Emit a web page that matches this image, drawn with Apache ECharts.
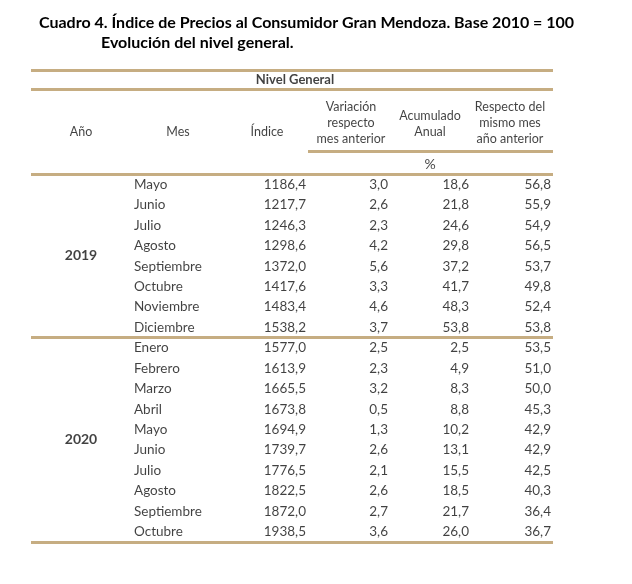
<!DOCTYPE html>
<html>
<head>
<meta charset="utf-8">
<script src="https://cdn.jsdelivr.net/npm/echarts@6/dist/echarts.min.js"></script>
<style>html,body{margin:0;padding:0;background:#fff}#c{width:632px;height:584px}</style>
</head>
<body>
<div id="c"></div>
<script>
// ---- data ----
var titleLine1 = 'Cuadro 4. Índice de Precios al Consumidor Gran Mendoza. Base 2010 = 100';
var titleLine2 = 'Evolución del nivel general.';
var groupHeader = 'Nivel General';
var colHeaders = ['Año', 'Mes', 'Índice', 'Variación\nrespecto\nmes anterior', 'Acumulado\nAnual', 'Respecto del\nmismo mes\naño anterior'];
var unitLabel = '%';
var years = ['2019', '2020'];
var yearRowCounts = [8, 10];
var months = ['Mayo','Junio','Julio','Agosto','Septiembre','Octubre','Noviembre','Diciembre',
              'Enero','Febrero','Marzo','Abril','Mayo','Junio','Julio','Agosto','Septiembre','Octubre'];
var indice = [1186.4,1217.7,1246.3,1298.6,1372.0,1417.6,1483.4,1538.2,1577.0,1613.9,1665.5,1673.8,1694.9,1739.7,1776.5,1822.5,1872.0,1938.5];
var variacion = [3.0,2.6,2.3,4.2,5.6,3.3,4.6,3.7,2.5,2.3,3.2,0.5,1.3,2.6,2.1,2.6,2.7,3.6];
var acumulado = [18.6,21.8,24.6,29.8,37.2,41.7,48.3,53.8,2.5,4.9,8.3,8.8,10.2,13.1,15.5,18.5,21.7,26.0];
var interanual = [56.8,55.9,54.9,56.5,53.7,49.8,52.4,53.8,53.5,51.0,50.0,45.3,42.9,42.9,42.5,40.3,36.4,36.7];

// ---- layout (table geometry in axis units) ----
var colAnchor = {year: 50, mes: 103, indice: 275, variacion: 357, acumulado: 438, interanual: 520};
var headCenter = [50, 147, 236, 320, 399, 479];
var headY = [-2.05, -2.05, -2.05, -2.5, -2.45, -2.5];
var groupHeaderPos = [264, -4.62];
var unitPos = [399, -0.5];
var subLineFrom = 277;
var Y_TOP = -5.1, Y_HEAD = -4.17, Y_SUB = -1.12;
var LINE = '#c6ad82';
var FONT = 'Lato';

function fmt(v) { return v.toFixed(1).replace('.', ','); }

var nRows = months.length;
function rowsOf(arr, x, f) {
  return arr.map(function (v, i) { return {value: [x, i + 0.5], txt: f ? f(v) : v}; });
}
function cellSeries(name, data, pos, extra) {
  var lab = {show: true, position: pos, distance: 0, color: '#111', fontFamily: FONT, fontSize: 13.5,
             formatter: function (p) { return p.data.txt; }};
  if (extra) for (var k in extra) lab[k] = extra[k];
  return {name: name, type: 'scatter', symbolSize: 0, silent: true, data: data, label: lab, z: 5};
}

// year labels centred over their row blocks
var yearData = [];
var start = 0;
years.forEach(function (y, i) {
  yearData.push({value: [colAnchor.year, start + yearRowCounts[i] / 2], txt: y});
  start += yearRowCounts[i];
});
// group boundaries for separator lines
var bounds = [0];
yearRowCounts.reduce(function (a, c) { bounds.push(a + c); return a + c; }, 0);

var headerData = colHeaders.map(function (h, i) { return {value: [headCenter[i], headY[i]], txt: h}; });

var lineStyle = {color: LINE, width: 2.8, type: 'solid'};
var markLines = [
  {yAxis: Y_TOP}, {yAxis: Y_HEAD},
  [{coord: [subLineFrom, Y_SUB]}, {coord: [522, Y_SUB]}]
].concat(bounds.map(function (b) { return {yAxis: b}; }));

var option = {
  backgroundColor: '#fff',
  animation: false,
  title: [
    {text: titleLine1, left: 34, top: 10, textStyle: {fontFamily: FONT, fontWeight: 'bold', fontSize: 16, color: '#000'}},
    {text: titleLine2, left: 96, top: 30, textStyle: {fontFamily: FONT, fontWeight: 'bold', fontSize: 16, color: '#000'}}
  ],
  grid: {left: 31, right: 79, top: 70, bottom: 42},
  xAxis: {type: 'value', min: 0, max: 522, show: false},
  yAxis: {type: 'value', inverse: true, min: Y_TOP, max: nRows, show: false},
  series: [
    cellSeries('Mes', rowsOf(months, colAnchor.mes), 'right'),
    cellSeries('Índice', rowsOf(indice, colAnchor.indice, fmt), 'left'),
    cellSeries('Variación', rowsOf(variacion, colAnchor.variacion, fmt), 'left'),
    cellSeries('Acumulado', rowsOf(acumulado, colAnchor.acumulado, fmt), 'left'),
    cellSeries('Interanual', rowsOf(interanual, colAnchor.interanual, fmt), 'left'),
    cellSeries('Año', yearData, 'inside', {fontWeight: 'bold', fontSize: 14}),
    {
      name: 'Header', type: 'scatter', symbolSize: 0, silent: true, data: headerData, z: 5,
      label: {show: true, position: 'inside', color: '#111', fontFamily: FONT, fontSize: 12.5, lineHeight: 16,
              align: 'center', formatter: function (p) { return p.data.txt; }},
      markLine: {silent: true, symbol: 'none', label: {show: false}, lineStyle: lineStyle, data: markLines}
    },
    {
      name: 'Unidad', type: 'scatter', symbolSize: 0, silent: true, z: 5,
      data: [{value: unitPos, txt: unitLabel}],
      label: {show: true, position: 'inside', color: '#111', fontFamily: FONT, fontSize: 14,
              formatter: function (p) { return p.data.txt; }}
    },
    {
      name: 'Grupo', type: 'scatter', symbolSize: 0, silent: true, z: 5,
      data: [{value: groupHeaderPos, txt: groupHeader}],
      label: {show: true, position: 'inside', color: '#111', fontFamily: FONT, fontSize: 13, fontWeight: 'bold',
              formatter: function (p) { return p.data.txt; }}
    }
  ]
};
var chart = echarts.init(document.getElementById('c'), null, {renderer: 'canvas'});
chart.setOption(option);
</script>
</body>
</html>
